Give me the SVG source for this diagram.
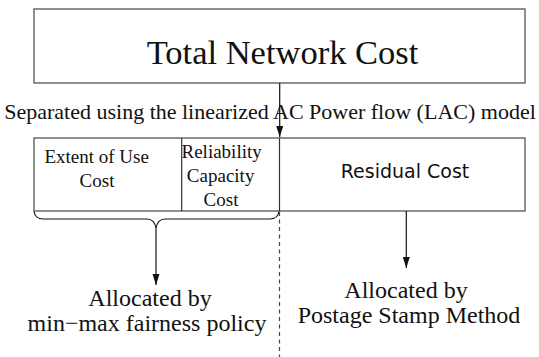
<svg xmlns="http://www.w3.org/2000/svg" width="539" height="357" viewBox="0 0 539 357">
  <style>
    .box { fill: #ffffff; stroke: #555555; stroke-width: 1.3; }
    .div { stroke: #333333; stroke-width: 1.2; fill: none; }
    .serif { font-family: 'Liberation Serif', 'DejaVu Serif', serif; fill: #111111; }
    .sans { font-family: 'DejaVu Sans', sans-serif; fill: #111111; }
    .wire { stroke: #111111; stroke-width: 1.2; fill: none; }
    .dash { stroke: #444444; stroke-width: 1.2; stroke-dasharray: 4 3.5; fill: none; }
  </style>
  <defs>
    <marker id="arrow" markerWidth="12" markerHeight="8" refX="11" refY="3.5" orient="auto" markerUnits="userSpaceOnUse">
      <path d="M0,0 L11,3.5 L0,7 Z" fill="#111111"/>
    </marker>
  </defs>
  <rect width="539" height="357" fill="#ffffff"/>

  <g id="total-cost">
    <rect class="box" x="34" y="9" width="491" height="74"/>
    <text class="serif" x="282.5" y="64" font-size="34.5" text-anchor="middle">Total Network Cost</text>
  </g>

  <g id="separation-label">
    <text class="serif" x="270" y="118.5" font-size="22" text-anchor="middle">Separated using the linearized AC Power flow (LAC) model</text>
  </g>

  <g id="cost-parts">
    <rect class="box" x="34" y="138" width="491" height="73"/>
    <line class="div" x1="181.7" y1="138" x2="181.7" y2="211"/>
    <line class="div" x1="279.5" y1="138" x2="279.5" y2="211"/>
  </g>

  <g id="extent-of-use">
    <text class="serif" font-size="19" text-anchor="middle">
      <tspan x="99" y="162.5">Extent of Use</tspan>
      <tspan x="97" y="186.5">Cost</tspan>
    </text>
  </g>

  <g id="reliability">
    <text class="serif" font-size="19" text-anchor="middle">
      <tspan x="224" y="157.5">Reliability</tspan>
      <tspan x="223" y="182">Capacity</tspan>
      <tspan x="221" y="206">Cost</tspan>
    </text>
  </g>

  <g id="residual">
    <text class="sans" x="405" y="178.3" font-size="19" text-anchor="middle">Residual Cost</text>
  </g>

  <g id="minmax">
    <text class="serif" font-size="24" text-anchor="middle">
      <tspan x="153" y="305.7">Allocated by</tspan>
      <tspan x="147" y="330.7">min−max fairness policy</tspan>
    </text>
  </g>

  <g id="postage">
    <text class="serif" font-size="24" text-anchor="middle">
      <tspan x="409" y="298.3">Allocated by</tspan>
      <tspan x="409" y="323.3">Postage Stamp Method</tspan>
    </text>
  </g>

  <g id="connectors">
    <line class="wire" x1="279.7" y1="83" x2="279.7" y2="137" marker-end="url(#arrow)"/>
    <path class="wire" d="M34,211.5 C35,217 38,219 43,219 L147,219 C152,219 155,222 156,228.5 C157,222 160,219 165,219 L270,219 C275,219 278,217 279,211.5"/>
    <line class="wire" x1="156" y1="228.5" x2="156" y2="285" marker-end="url(#arrow)"/>
    <line class="wire" x1="406.3" y1="211" x2="406.3" y2="268" marker-end="url(#arrow)"/>
    <line class="dash" x1="279.5" y1="212" x2="279.5" y2="357"/>
  </g>
</svg>
